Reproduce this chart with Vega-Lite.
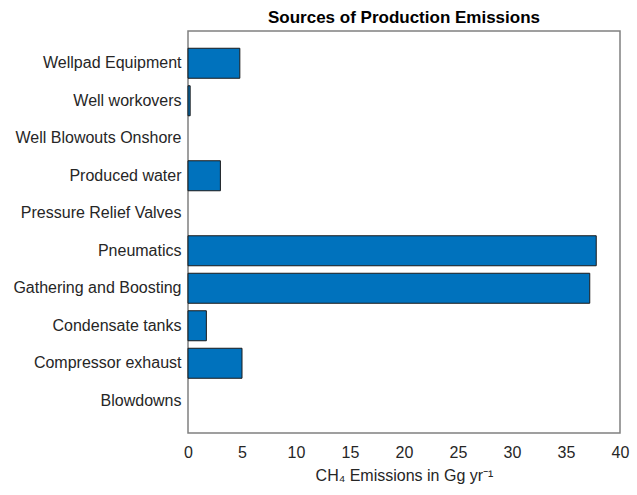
{
  "$schema": "https://vega.github.io/schema/vega-lite/v6.json",
  "autosize": {"type": "none"},
  "padding": {"left": 188, "top": 31, "right": 17, "bottom": 62},
  "width": 432,
  "height": 402,
  "background": "white",
  "title": {
    "text": "Sources of Production Emissions",
    "font": "Liberation Sans",
    "fontSize": 17,
    "fontWeight": "bold",
    "color": "#000000",
    "anchor": "middle",
    "offset": 4
  },
  "data": {
    "values": [
      {"source": "Wellpad Equipment", "emissions": 4.8},
      {"source": "Well workovers", "emissions": 0.2},
      {"source": "Well Blowouts Onshore", "emissions": 0},
      {"source": "Produced water", "emissions": 3.0},
      {"source": "Pressure Relief Valves", "emissions": 0},
      {"source": "Pneumatics", "emissions": 37.8},
      {"source": "Gathering and Boosting", "emissions": 37.2},
      {"source": "Condensate tanks", "emissions": 1.7},
      {"source": "Compressor exhaust", "emissions": 5.0},
      {"source": "Blowdowns", "emissions": 0}
    ]
  },
  "mark": {"type": "bar", "color": "#0072BD", "stroke": "#1a1a1a", "strokeWidth": 1},
  "encoding": {
    "y": {
      "field": "source",
      "type": "nominal",
      "sort": null,
      "scale": {"paddingInner": 0.2, "paddingOuter": 0.46},
      "axis": {
        "title": null,
        "ticks": false,
        "domain": false,
        "labelPadding": 7,
        "labelFont": "Liberation Sans",
        "labelFontSize": 16,
        "labelColor": "#262626"
      }
    },
    "x": {
      "field": "emissions",
      "type": "quantitative",
      "scale": {"domain": [0, 40], "nice": false},
      "axis": {
        "values": [0, 5, 10, 15, 20, 25, 30, 35, 40],
        "title": "CH₄ Emissions in Gg yr⁻¹",
        "titleFont": "Liberation Sans",
        "titleFontSize": 16,
        "titleFontWeight": "normal",
        "titleColor": "#262626",
        "titlePadding": 7,
        "ticks": false,
        "domain": false,
        "grid": false,
        "labelFlush": false,
        "labelPadding": 11,
        "labelFont": "Liberation Sans",
        "labelFontSize": 16,
        "labelColor": "#262626"
      }
    },
    "strokeOpacity": {
      "condition": {"test": "datum.emissions === 0", "value": 0},
      "value": 1
    }
  },
  "config": {
    "view": {"stroke": "#808080", "strokeWidth": 1.5},
    "axis": {"grid": false}
  }
}
